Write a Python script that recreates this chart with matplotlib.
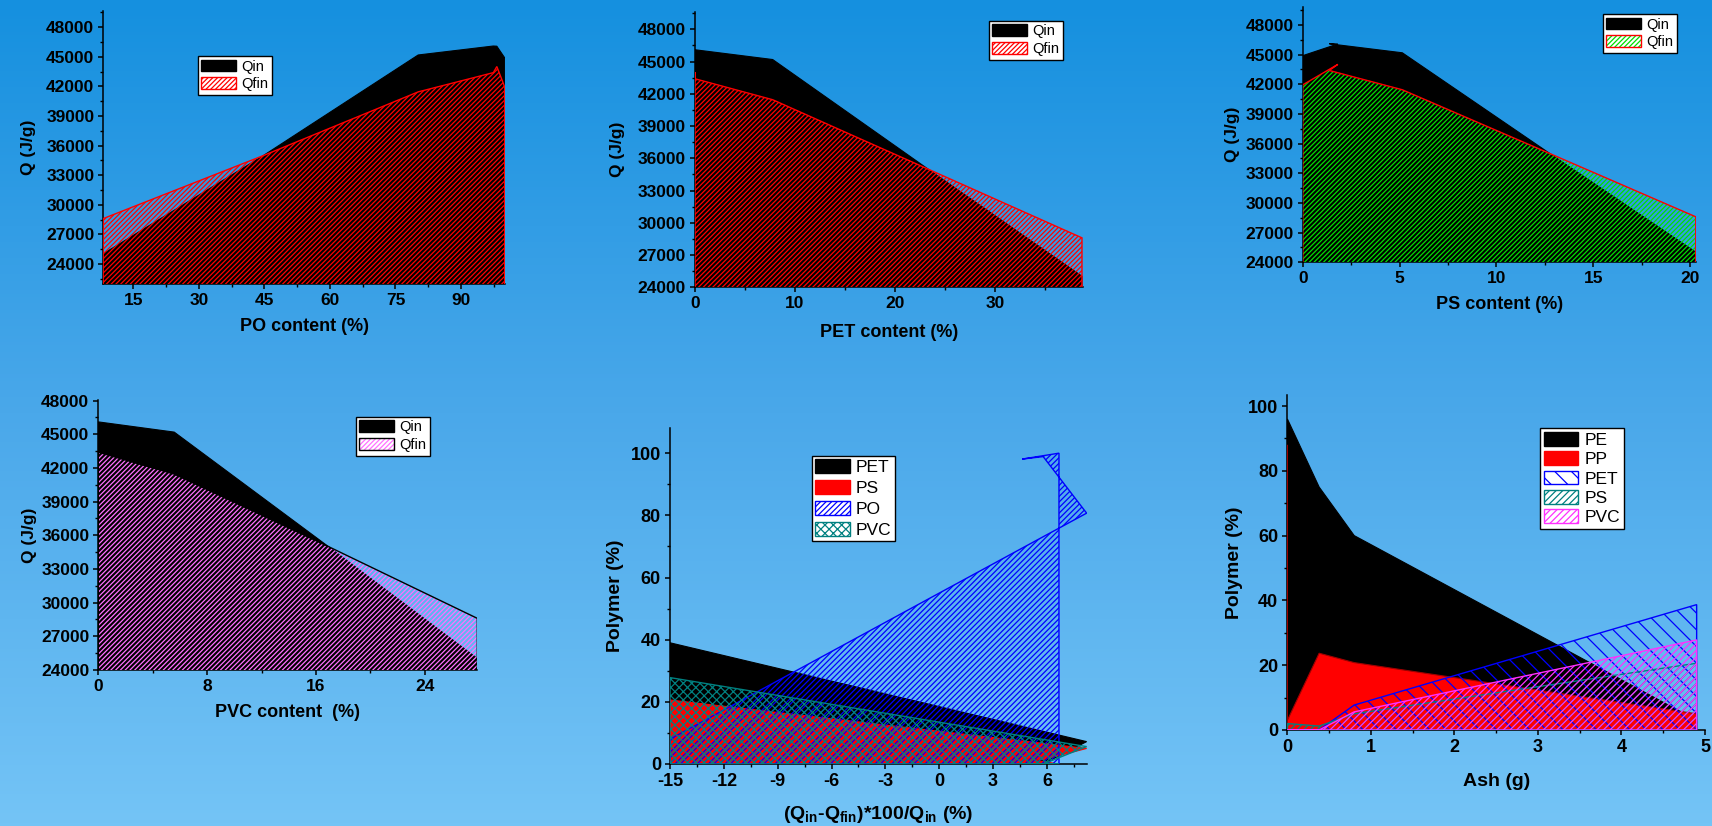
import numpy as np
import matplotlib
matplotlib.use("Agg")
import matplotlib.pyplot as plt
from matplotlib.patches import Polygon, Patch
from matplotlib.legend_handler import HandlerTuple
from matplotlib.colors import LinearSegmentedColormap

W, H = 1712, 826
plt.rcParams["font.family"] = ["Liberation Sans", "DejaVu Sans"]
plt.rcParams["mathtext.fontset"] = "custom"
plt.rcParams["mathtext.rm"] = "Liberation Sans"
plt.rcParams["mathtext.bf"] = "Liberation Sans:bold"
plt.rcParams["hatch.linewidth"] = 0.9

# ---- mixture rows (same row order in every composition series) ----
po_content = [100.0, 98.2, 97.4, 80.2, 44.8, 8.1]
pet_content = [0.0, 0.0, 0.0, 7.77, 23.3, 38.7]
ps_content = [0.0, 1.81, 1.37, 5.14, 12.76, 20.3]
pvc_content = [0.0, 0.0, 0.0, 5.58, 16.9, 27.85]
q_in = [44900, 46080, 46100, 45190, 35000, 25030]
q_fin = [41950, 44020, 43400, 41450, 35000, 28600]

# ---- polymer share against relative heat loss ----
q_loss = [6.67, 4.62, 5.79, 8.21, -15.0]
po_pct = [100.0, 98.1, 98.9, 80.7, 8.0]
pet_pct = [0.0, 0.0, 0.0, 7.2, 39.0]
ps_pct = [0.0, 1.8, 1.4, 5.0, 20.6]
pvc_pct = [0.0, 0.0, 0.0, 5.6, 27.8]

# ---- polymer share against ash ----
ash = [0.0, 0.0, 0.38, 0.80, 4.90]
pe_ash = [96.0, 96.0, 75.0, 60.0, 3.0]
pp_ash = [88.0, 3.0, 23.7, 20.8, 5.0]
pet_ash = [0.0, 0.0, 0.0, 7.7, 38.7]
ps_ash = [2.0, 2.0, 1.2, 5.0, 20.6]
pvc_ash = [0.0, 0.0, 0.0, 5.6, 27.8]

# ---- ticks ----
q_ticks = list(range(24000, 48001, 3000))
q_minor = list(range(22500, 49501, 3000))
po_ticks = [15, 30, 45, 60, 75, 90]
pet_ticks = [0, 10, 20, 30]
ps_ticks = [0, 5, 10, 15, 20]
pvc_ticks = [0, 8, 16, 24]
loss_ticks = [-15, -12, -9, -6, -3, 0, 3, 6]
pct_ticks = [0, 20, 40, 60, 80, 100]
ash_ticks = [0, 1, 2, 3, 4, 5]

RED = "#ff0000"
BLUE = "#0000ff"
TEAL = "#008080"
GREEN = "#00e000"
PINK = "#ff70ff"
MAGENTA = "#ff30ff"

fig = plt.figure(figsize=(W / 100, H / 100), dpi=100)

# sky-blue backdrop
bg = fig.add_axes([0, 0, 1, 1], zorder=-10)
grad = np.linspace(0, 1, 256).reshape(-1, 1)
sky = LinearSegmentedColormap.from_list("sky", ["#1590df", "#4aa8ea", "#74c4f6"])
bg.imshow(grad, aspect="auto", cmap=sky, extent=[0, 1, 0, 1], origin="upper")
bg.axis("off")


def make_axes(l, r, t, b):
    ax = fig.add_axes([l / W, 1 - b / H, (r - l) / W, (b - t) / H])
    ax.set_facecolor("none")
    for s in ("top", "right"):
        ax.spines[s].set_visible(False)
    for s in ("left", "bottom"):
        ax.spines[s].set_linewidth(1.1)
    return ax


def style_ticks(ax, xt, xm, yt, ym, size):
    ax.set_xticks(xt, labels=[str(v) for v in xt])
    ax.set_yticks(yt, labels=[str(v) for v in yt])
    ax.set_xticks(xm, minor=True)
    ax.set_yticks(ym, minor=True)
    ax.tick_params(which="major", direction="out", length=3.5, width=1.1, pad=3,
                   top=False, right=False, labelsize=size)
    ax.tick_params(which="minor", direction="out", length=2, width=1.0,
                   top=False, right=False)
    for lbl in ax.get_xticklabels() + ax.get_yticklabels():
        lbl.set_fontweight("bold")
        lbl.set_fontsize(size)


def area(ax, x, y, base, face=None, hatch=None, hcolor=None, edge=None, lw=0.9, z=2):
    verts = [(x[0], base)] + list(zip(x, y)) + [(x[-1], base)]
    if hatch is None:
        ax.add_patch(Polygon(verts, closed=True, facecolor=face,
                             edgecolor=edge or face, linewidth=lw, zorder=z))
    else:
        ax.add_patch(Polygon(verts, closed=True, facecolor="none", edgecolor=hcolor,
                             hatch=hatch, linewidth=0, zorder=z))
        if edge:
            ax.add_patch(Polygon(verts, closed=True, fill=False, edgecolor=edge,
                                 linewidth=lw, zorder=z + 0.01))


def add_legend(ax, handles, labels, x, y, size, hl, hh, pad=0.25, lsp=0.25):
    leg = ax.legend(handles, labels, loc="upper left",
                    bbox_to_anchor=(x / W, 1 - y / H), bbox_transform=fig.transFigure,
                    borderaxespad=0, fontsize=size, frameon=True, fancybox=False,
                    edgecolor="black", framealpha=1, facecolor="white",
                    handlelength=hl, handleheight=hh, handletextpad=0.35,
                    labelspacing=lsp, borderpad=pad,
                    handler_map={tuple: HandlerTuple(ndivide=1, pad=0)})
    leg.get_frame().set_linewidth(1.0)
    leg.set_zorder(10)
    return leg


QH = "///////"
qin_handle = Patch(facecolor="black", edgecolor="black", linewidth=1)
TICK_TOP = 12.5
TICK_LOW = 13
XL_TOP = 13
YL_TOP = 12.5
LBL_LOW = 14


def heat_panel(ax, x, hatch_col, edge_col):
    area(ax, x, q_in, 0, face="black", lw=0.8, z=2)
    area(ax, x, q_fin, 0, hatch=QH, hcolor=hatch_col, edge=edge_col, lw=1.0, z=3)


# ---------- PO content ----------
ax1 = make_axes(103.3, 505, 10.7, 284.3)
heat_panel(ax1, po_content, RED, RED)
ax1.set_xlim(8.13, 100.07)
ax1.set_ylim(21940, 49680)
style_ticks(ax1, po_ticks, [22.5, 37.5, 52.5, 67.5, 82.5, 97.5], q_ticks, q_minor, TICK_TOP)
ax1.set_xlabel("PO content (%)", fontsize=XL_TOP, fontweight="bold", labelpad=7)
ax1.set_ylabel("Q (J/g)", fontsize=YL_TOP, fontweight="bold", labelpad=7)
add_legend(ax1, [qin_handle, Patch(facecolor="white", edgecolor=RED, hatch=QH, linewidth=1)],
           ["Qin", "Qfin"], 197.7, 56, 10.5, 2.4, 0.85)

# ---------- PET content ----------
ax2 = make_axes(695, 1082.7, 11.7, 287.3)
heat_panel(ax2, pet_content, RED, RED)
ax2.set_xlim(0, 38.77)
ax2.set_ylim(24000, 49640)
style_ticks(ax2, pet_ticks, [5, 15, 25, 35], q_ticks, q_minor[1:], TICK_TOP)
ax2.set_xlabel("PET content (%)", fontsize=XL_TOP, fontweight="bold", labelpad=9)
ax2.set_ylabel("Q (J/g)", fontsize=YL_TOP, fontweight="bold", labelpad=9)
add_legend(ax2, [qin_handle, Patch(facecolor="white", edgecolor=RED, hatch=QH, linewidth=1)],
           ["Qin", "Qfin"], 988.7, 20.7, 10.5, 2.4, 0.85)

# ---------- PS content ----------
ax3 = make_axes(1302.8, 1695.8, 7.3, 262.3)
heat_panel(ax3, ps_content, GREEN, RED)
ax3.set_xlim(0, 20.3)
ax3.set_ylim(24000, 49790)
style_ticks(ax3, ps_ticks, [2.5, 7.5, 12.5, 17.5], q_ticks, q_minor[1:], TICK_TOP)
ax3.set_xlabel("PS content (%)", fontsize=XL_TOP, fontweight="bold", labelpad=7)
ax3.set_ylabel("Q (J/g)", fontsize=YL_TOP, fontweight="bold", labelpad=4)
add_legend(ax3, [qin_handle,
                 (Patch(facecolor="white", edgecolor=GREEN, hatch=QH, linewidth=0),
                  Patch(fill=False, edgecolor=RED, linewidth=1))],
           ["Qin", "Qfin"], 1602.5, 14, 10.5, 2.4, 0.85)

# ---------- PVC content ----------
ax4 = make_axes(98.3, 477.3, 400, 670)
heat_panel(ax4, pvc_content, PINK, "black")
ax4.set_xlim(0, 27.85)
ax4.set_ylim(24000, 48050)
style_ticks(ax4, pvc_ticks, [4, 12, 20], q_ticks, q_minor[1:-1], TICK_TOP)
ax4.set_xlabel("PVC content  (%)", fontsize=XL_TOP, fontweight="bold", labelpad=7)
ax4.set_ylabel("Q (J/g)", fontsize=YL_TOP, fontweight="bold", labelpad=3)
add_legend(ax4, [qin_handle,
                 (Patch(facecolor="white", edgecolor=PINK, hatch=QH, linewidth=0),
                  Patch(fill=False, edgecolor="black", linewidth=1))],
           ["Qin", "Qfin"], 355.7, 416.7, 10.5, 2.4, 0.85)

# ---------- polymer vs heat loss ----------
ax5 = make_axes(670, 1086.8, 428.3, 764)
area(ax5, q_loss, pet_pct, 0, face="black", lw=0.8, z=2)
area(ax5, q_loss, ps_pct, 0, face=RED, lw=0.8, z=3)
area(ax5, q_loss, po_pct, 0, hatch="//////", hcolor=BLUE, edge=BLUE, lw=1.0, z=4)
area(ax5, q_loss, pvc_pct, 0, hatch="xxxx", hcolor=TEAL, edge=TEAL, lw=1.0, z=5)
ax5.set_xlim(-15, 8.22)
ax5.set_ylim(0, 108)
style_ticks(ax5, loss_ticks, [-13.5, -10.5, -7.5, -4.5, -1.5, 1.5, 4.5, 7.5],
            pct_ticks, [10, 30, 50, 70, 90], TICK_LOW)
ax5.set_xlabel(r"(Q$_{\mathbf{in}}$-Q$_{\mathbf{fin}}$)*100/Q$_{\mathbf{in}}$ (%)",
               fontsize=LBL_LOW, fontweight="bold", labelpad=10)
ax5.set_ylabel("Polymer (%)", fontsize=LBL_LOW, fontweight="bold", labelpad=5)
add_legend(ax5,
           [Patch(facecolor="black", edgecolor="black"),
            Patch(facecolor=RED, edgecolor=RED),
            Patch(facecolor="white", edgecolor=BLUE, hatch="//////", linewidth=1),
            Patch(facecolor="white", edgecolor=TEAL, hatch="xxxx", linewidth=1)],
           ["PET", "PS", "PO", "PVC"], 811.8, 456, 12.5, 2.0, 0.85, pad=0.2, lsp=0.28)

# ---------- polymer vs ash ----------
ax6 = make_axes(1287.4, 1705, 395, 730)
area(ax6, ash, pe_ash, 0, face="black", lw=0.8, z=2)
area(ax6, ash, pp_ash, 0, face=RED, edge="#a00000", lw=0.8, z=3)
area(ax6, ash, pet_ash, 0, hatch="\\\\", hcolor=BLUE, edge=BLUE, lw=1.0, z=4)
area(ax6, ash, ps_ash, 0, hatch="/////", hcolor=TEAL, edge=TEAL, lw=1.0, z=5)
area(ax6, ash, pvc_ash, 0, hatch="/////", hcolor=MAGENTA, edge=MAGENTA, lw=1.0, z=6)
ax6.set_xlim(0, 5)
ax6.set_ylim(0, 103.4)
style_ticks(ax6, ash_ticks, [0.5, 1.5, 2.5, 3.5, 4.5], pct_ticks, [10, 30, 50, 70, 90], TICK_LOW)
ax6.set_xlabel("Ash (g)", fontsize=LBL_LOW, fontweight="bold", labelpad=12)
ax6.set_ylabel("Polymer (%)", fontsize=LBL_LOW, fontweight="bold", labelpad=4)
add_legend(ax6,
           [Patch(facecolor="black", edgecolor="black"),
            Patch(facecolor=RED, edgecolor=RED),
            Patch(facecolor="white", edgecolor=BLUE, hatch="\\\\", linewidth=1),
            Patch(facecolor="white", edgecolor=TEAL, hatch="/////", linewidth=1),
            Patch(facecolor="white", edgecolor=MAGENTA, hatch="/////", linewidth=1)],
           ["PE", "PP", "PET", "PS", "PVC"], 1540.2, 428.3, 12.5, 2.0, 0.85, pad=0.2, lsp=0.2)

fig.savefig("out.png", dpi=100)
